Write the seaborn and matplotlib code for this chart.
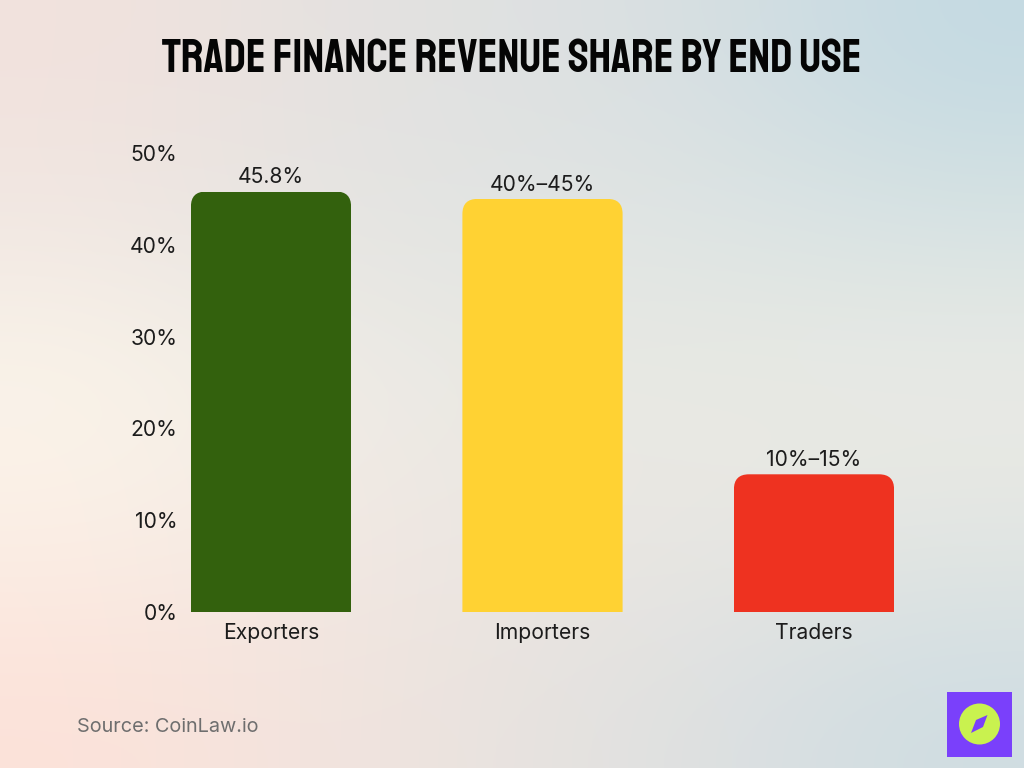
import numpy as np
import pandas as pd
import matplotlib
matplotlib.use("Agg")
import matplotlib.pyplot as plt
import seaborn as sns
from matplotlib import font_manager as fm
from matplotlib.patches import FancyBboxPatch, Rectangle, Circle, Polygon
from matplotlib.colors import to_rgb

categories = ["Exporters", "Importers", "Traders"]
values = [45.8, 45, 15]
value_labels = ["45.8%", "40%\u201345%", "10%\u201315%"]
bar_colors = ["#33610d", "#ffd233", "#ee3220"]
y_ticks = [0, 10, 20, 30, 40, 50]
title_text = "Trade Finance Revenue Share by End Use"
source_text = "Source: CoinLaw.io"

bg_grid = [
    ["#f2e2dd", "#e6e2e0", "#dfe1e1", "#d6dfe2", "#c4dae2"],
    ["#f1e8e3", "#e6e5e2", "#e2e5e3", "#dfe5e4", "#d8e3e3"],
    ["#fbf5ea", "#f1ede6", "#e9e9e4", "#e9eae4", "#ebebe5"],
    ["#fbefe6", "#f3e9e3", "#ebe6e2", "#e9e7e2", "#e3e6e3"],
    ["#fce2d9", "#f3e4de", "#e8e3df", "#dde0e1", "#cfdde2"],
]

sns.set_theme(style="white")
plt.rcParams["font.family"] = ["Inter", "DejaVu Sans"]

W, H = 1024, 768
fig = plt.figure(figsize=(W / 100, H / 100), dpi=100)

bg = fig.add_axes([0, 0, 1, 1], zorder=0)
bg.imshow([[to_rgb(c) for c in row] for row in bg_grid], extent=[0, W, H, 0],
          aspect="auto", interpolation="bicubic")
bg.set_xlim(0, W)
bg.set_ylim(H, 0)
bg.axis("off")

# pixel frame of the plotting area
L, R, T, B = 185, 900, 153, 612
ax = fig.add_axes([L / W, 1 - B / H, (R - L) / W, (B - T) / H], zorder=1)
ax.patch.set_alpha(0)
df = pd.DataFrame({"category": categories, "value": values})
sns.barplot(data=df, x="category", y="value", hue="category", palette=bar_colors,
            order=categories, hue_order=categories, width=0.59, legend=False,
            saturation=1, linewidth=0, ax=ax)
ax.set_xlim((L - 271) / 271.5, (R - 271) / 271.5)
ax.set_ylim(0, 50)
ax.set_yticks(y_ticks)
ax.set_yticklabels([f"{t}%" for t in y_ticks])
ax.set_xlabel("")
ax.set_ylabel("")
ax.tick_params(axis="both", length=0, labelsize=15.2, colors="#1c1c1c")
ax.tick_params(axis="y", pad=5.5)
ax.tick_params(axis="x", pad=8)
sns.despine(ax=ax, left=True, bottom=True, top=True, right=True)

# rounded top corners: clip each bar with a rounded box reaching below the baseline
fig.canvas.draw()
radius = 15
for bar, lab in zip(ax.patches, value_labels):
    bar.set_edgecolor("none")
    x0, y0 = ax.transData.transform((bar.get_x(), 0))
    x1, y1 = ax.transData.transform((bar.get_x() + bar.get_width(), bar.get_height()))
    clip = FancyBboxPatch((x0 + radius, y0 - 60), (x1 - x0) - 2 * radius, (y1 - y0) + 60 - radius,
                          boxstyle=f"round,pad={radius},rounding_size={radius}",
                          transform=None, facecolor="none", edgecolor="none")
    bar.set_clip_path(clip)
    ax.annotate(lab, (bar.get_x() + bar.get_width() / 2, bar.get_height()),
                xytext=(0, 3), textcoords="offset points", ha="center", va="bottom",
                fontsize=15.2, color="#1c1c1c")

try:
    fm.findfont("Staatliches", fallback_to_default=False)
    title_family, title_size = ["Staatliches", "DejaVu Sans"], 34
except ValueError:
    title_family, title_size = ["DejaVu Sans"], 22
fig.text(512 / W, 1 - 55 / H, title_text, ha="center", va="center",
         fontsize=title_size, family=title_family, color="#050505", zorder=5)
fig.text(77 / W, 1 - 727 / H, source_text, ha="left", va="center", fontsize=14.3,
         color="#6e6e6e", zorder=5)

# logo badge
ov = fig.add_axes([0, 0, 1, 1], zorder=3)
ov.set_xlim(0, W)
ov.set_ylim(H, 0)
ov.axis("off")
ov.add_patch(Rectangle((947, 692), 65, 65, facecolor="#7a40fb", edgecolor="none"))
ov.add_patch(Circle((979.5, 724), 20.5, facecolor="#c9f24f", edgecolor="none"))
ov.add_patch(Polygon([(987.5, 715), (983, 727), (971, 733), (976, 720)], closed=True,
                     facecolor="#7a40fb", edgecolor="none"))

fig.savefig("out.png", dpi=100)
